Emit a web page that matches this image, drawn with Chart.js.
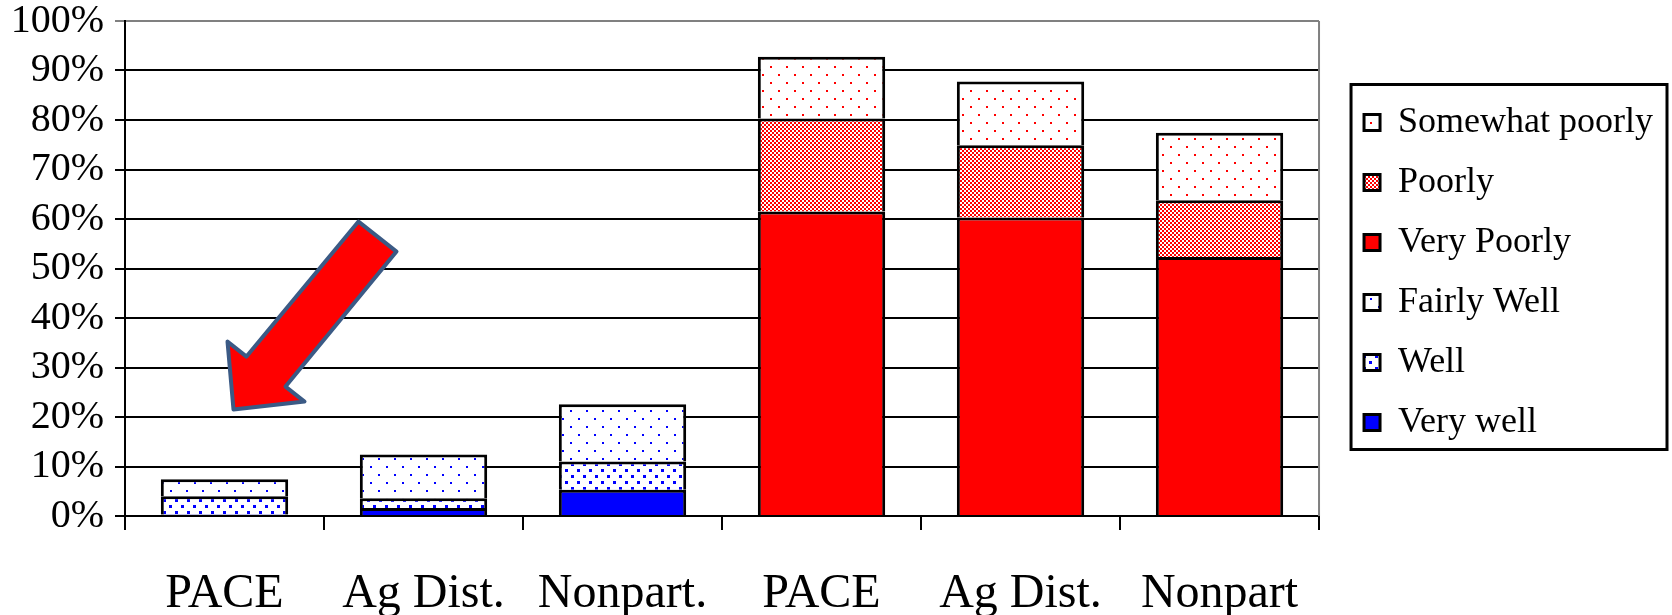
<!DOCTYPE html>
<html>
<head>
<meta charset="utf-8">
<script src="https://cdn.jsdelivr.net/npm/chart.js@4.4.0/dist/chart.umd.min.js"></script>
<style>
    html, body { margin: 0; padding: 0; background: #fff; }
</style>
</head>
<body>
<canvas id="ratingChart" width="1672" height="615"></canvas>
<script>
// categories and stacked series (percent of respondents)
const categories = ['PACE', 'Ag Dist.', 'Nonpart.', 'PACE', 'Ag Dist.', 'Nonpart'];
const veryWell = [0.3, 1.6, 5.3, null, null, null];
const well = [3.7, 2.0, 5.7, null, null, null];
const fairlyWell = [3.4, 8.8, 11.6, null, null, null];
const veryPoorly = [null, null, null, 61.5, 60.3, 52.3];
const poorly = [null, null, null, 18.8, 14.6, 11.5];
const somewhatPoorly = [null, null, null, 12.5, 12.9, 13.6];
const yTicks = [0, 10, 20, 30, 40, 50, 60, 70, 80, 90, 100];

const LEGEND_FONT = 36;
const LEGEND_PAD = 24;

Chart.defaults.font.family = "'Liberation Serif', 'Times New Roman', serif";
Chart.defaults.color = '#000';

const canvas = document.getElementById('ratingChart');
const ctx = canvas.getContext('2d');

// small repeating fills like the old office patterns
function tilePattern(color, tile, dot, points) {
    const c = document.createElement('canvas');
    c.width = tile;
    c.height = tile;
    const g = c.getContext('2d');
    g.fillStyle = '#fff';
    g.fillRect(0, 0, tile, tile);
    g.fillStyle = color;
    points.forEach(p => g.fillRect(p[0], p[1], dot, dot));
    return ctx.createPattern(c, 'repeat');
}

const sparseRed = tilePattern('#ff0000', 16, 2, [[2, 2], [10, 10]]);
const checkRed = tilePattern('#ff0000', 4, 2, [[0, 0], [2, 2]]);
const sparseBlue = tilePattern('#0000ff', 16, 2, [[2, 2], [10, 10]]);
const denseBlue = tilePattern('#0000ff', 12, 3, [[1, 1], [7, 7]]);

function series(label, data, fill) {
    return {
        label: label,
        data: data,
        backgroundColor: fill,
        borderColor: '#000',
        borderWidth: 3,
        categoryPercentage: 0.64,
        barPercentage: 1.0
    };
}

// push the legend a bit away from the plot, like the original
const legendNudge = {
    id: 'legendNudge',
    afterLayout(chart) {
        const lg = chart.legend;
        if (!lg) return;
        lg.left += 21;
        lg.right += 21;
        lg.top += 4;
        lg.bottom += 4;
    }
};

// legend frame and plot right border
const frames = {
    id: 'frames',
    afterDraw(chart) {
        const c = chart.ctx;
        const area = chart.chartArea;
        c.save();
        c.strokeStyle = '#808080';
        c.lineWidth = 2;
        c.beginPath();
        c.moveTo(area.right, area.top);
        c.lineTo(area.right, area.bottom);
        c.stroke();

        const lg = chart.legend;
        const n = lg.legendItems.length;
        const colH = n * (LEGEND_FONT + LEGEND_PAD);
        const itemsTop = (lg.top + LEGEND_PAD + lg.bottom - colH) / 2;
        const left = lg.left + LEGEND_PAD - 13;
        const top = itemsTop - 20;
        const bottom = itemsTop + colH - 15;
        c.strokeStyle = '#000';
        c.lineWidth = 3;
        c.strokeRect(left, top, chart.width - 5 - left, bottom - top);
        c.restore();
    }
};

// the red call-out arrow pointing at the first PACE bar
const arrowShape = [[125, -188], [163, -158], [52, -23], [71, -8], [0, 0], [-6, -68], [13, -53]];
const callout = {
    id: 'callout',
    afterDraw(chart) {
        const x = chart.scales.x;
        const y = chart.scales.y;
        const tipX = x.getPixelForValue(0) + 9;
        const tipY = y.getPixelForValue(21.5);
        const c = chart.ctx;
        c.save();
        c.beginPath();
        arrowShape.forEach((p, i) => {
            if (i === 0) c.moveTo(tipX + p[0], tipY + p[1]);
            else c.lineTo(tipX + p[0], tipY + p[1]);
        });
        c.closePath();
        c.fillStyle = '#ff0000';
        c.fill();
        c.lineJoin = 'round';
        c.lineWidth = 4;
        c.strokeStyle = '#3b5a85';
        c.stroke();
        c.restore();
    }
};

new Chart(ctx, {
    type: 'bar',
    data: {
        labels: categories,
        datasets: [
            series('Very well', veryWell, '#0000ff'),
            series('Well', well, denseBlue),
            series('Fairly Well', fairlyWell, sparseBlue),
            series('Very Poorly', veryPoorly, '#ff0000'),
            series('Poorly', poorly, checkRed),
            series('Somewhat poorly', somewhatPoorly, sparseRed)
        ]
    },
    options: {
        responsive: false,
        animation: false,
        layout: {
            padding: { top: 21, right: 30, bottom: 0, left: 0 }
        },
        plugins: {
            tooltip: { enabled: false },
            legend: {
                position: 'right',
                fullSize: false,
                reverse: true,
                labels: {
                    boxWidth: 16,
                    boxHeight: 16,
                    padding: LEGEND_PAD,
                    color: '#000',
                    font: { size: LEGEND_FONT }
                }
            }
        },
        scales: {
            x: {
                stacked: true,
                afterFit: function (scale) { scale.height = 99; },
                grid: {
                    drawOnChartArea: false,
                    drawTicks: true,
                    tickLength: 14,
                    color: '#000',
                    lineWidth: 2
                },
                border: { display: true, color: '#000', width: 2 },
                ticks: {
                    autoSkip: false,
                    maxRotation: 0,
                    padding: 36,
                    color: '#000',
                    font: { size: 48 }
                }
            },
            y: {
                stacked: true,
                min: 0,
                max: 100,
                afterFit: function (scale) {
                    scale.width = 125;
                    scale.paddingTop = 0;
                    scale.paddingBottom = 0;
                },
                afterBuildTicks: function (scale) {
                    scale.ticks = yTicks.map(v => ({ value: v }));
                },
                grid: {
                    tickLength: 10,
                    lineWidth: 2,
                    color: c => (c.tick && c.tick.value === 100 ? '#808080' : '#000')
                },
                border: { display: true, color: '#000', width: 2 },
                ticks: {
                    autoSkip: false,
                    padding: 11,
                    color: '#000',
                    font: { size: 40 },
                    callback: v => v + '%'
                }
            }
        }
    },
    plugins: [legendNudge, frames, callout]
});
</script>
</body>
</html>
